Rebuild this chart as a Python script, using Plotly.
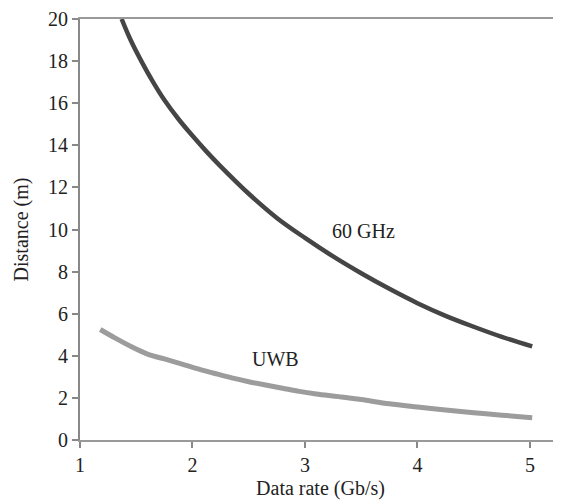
import plotly.graph_objects as go

# 60 GHz curve
ghz_rate = [1.37, 1.45, 1.55, 1.65, 1.75, 1.875, 2.0, 2.125, 2.25, 2.5, 2.75, 3.0, 3.25, 3.5,
            3.75, 4.0, 4.25, 4.5, 4.75, 5.02]
ghz_dist = [20.0, 19.0, 17.95, 17.0, 16.15, 15.25, 14.45, 13.7, 13.0, 11.7, 10.55, 9.6, 8.72,
            7.92, 7.18, 6.5, 5.9, 5.38, 4.9, 4.45]

# UWB curve
uwb_rate = [1.18, 1.3, 1.45, 1.6, 1.75, 1.9, 2.05, 2.2, 2.35, 2.5, 2.65, 2.8, 2.95, 3.1, 3.3,
            3.5, 3.75, 4.0, 4.25, 4.5, 4.75, 5.02]
uwb_dist = [5.25, 4.88, 4.45, 4.08, 3.85, 3.62, 3.38, 3.16, 2.95, 2.77, 2.61, 2.46, 2.31, 2.19,
            2.06, 1.92, 1.72, 1.57, 1.43, 1.30, 1.18, 1.06]

x_ticks = [1, 2, 3, 4, 5]
y_ticks = [0, 2, 4, 6, 8, 10, 12, 14, 16, 18, 20]

font_family = "Liberation Serif, Times New Roman, serif"

fig = go.Figure()
fig.add_trace(go.Scatter(x=ghz_rate, y=ghz_dist, mode="lines", name="60 GHz",
                         line=dict(color="#454545", width=4.5, shape="spline"), showlegend=False))
fig.add_trace(go.Scatter(x=uwb_rate, y=uwb_dist, mode="lines", name="UWB",
                         line=dict(color="#9c9c9c", width=5, shape="spline"), showlegend=False))

fig.add_annotation(x=3.52, y=9.93, text="60 GHz", showarrow=False,
                   font=dict(family=font_family, size=20, color="#222"))
fig.add_annotation(x=2.74, y=3.84, text="UWB", showarrow=False,
                   font=dict(family=font_family, size=20, color="#222"))

fig.update_layout(
    width=553, height=496,
    margin=dict(l=72, r=0, t=11, b=64),
    paper_bgcolor="white", plot_bgcolor="white",
    font=dict(family=font_family, size=20, color="#222"),
    xaxis=dict(range=[1, 5.276], tickvals=x_ticks, ticks="outside", ticklen=6, tickwidth=2,
               tickcolor="#888", showline=True, linecolor="#999", linewidth=2, mirror=True,
               showgrid=False, zeroline=False, ticklabeloverflow="allow", automargin=False,
               title=dict(text="Data rate (Gb/s)", font=dict(size=20), standoff=6)),
    yaxis=dict(range=[0, 20], tickvals=y_ticks, ticks="outside", ticklen=6, tickwidth=2,
               tickcolor="#888", showline=True, linecolor="#888", linewidth=2,
               showgrid=False, zeroline=False, ticklabeloverflow="allow", automargin=False,
               title=dict(text="Distance (m)", font=dict(size=20), standoff=14)),
)

fig.write_html("out.html")
